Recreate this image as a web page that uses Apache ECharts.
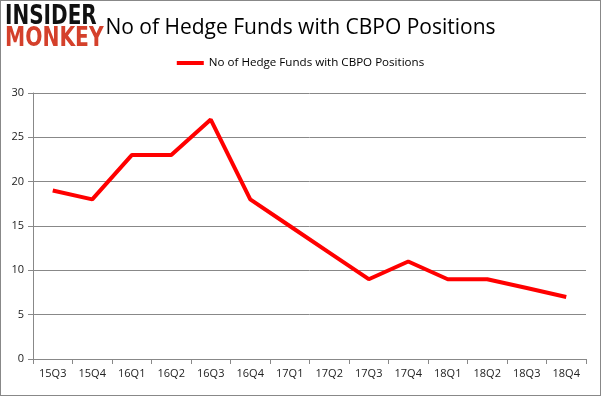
<!DOCTYPE html>
<html><head><meta charset="utf-8">
<script src="https://cdn.jsdelivr.net/npm/echarts@6/dist/echarts.min.js"></script>
<style>html,body{margin:0;padding:0;background:#fff}#c{width:601px;height:396px;box-sizing:border-box;border:1px solid #888}</style>
</head><body><div id="c"></div>
<script>
const categories = ["15Q3","15Q4","16Q1","16Q2","16Q3","16Q4","17Q1","17Q2","17Q3","17Q4","18Q1","18Q2","18Q3","18Q4"];
const hedgeFunds = [19,18,23,23,27,18,15,12,9,11,9,9,8,7];
const yTicks = [0,5,10,15,20,25,30];
const seriesName = "No of Hedge Funds with CBPO Positions";
const chart = echarts.init(document.getElementById('c'), null, {renderer:'canvas'});
chart.setOption({
  animation:false,
  title:{text:seriesName,left:'center',top:12,textStyle:{fontFamily:'Open Sans',fontSize:21,fontWeight:'normal',color:'#000'}},
  legend:{top:51,left:'center',itemWidth:27,itemHeight:4,itemGap:5,icon:'rect',textStyle:{fontFamily:'Open Sans',fontSize:11.6,color:'#000'},data:[seriesName]},
  graphic:[
    {type:'text',x:4,y:3,scaleX:0.77,style:{text:'INSIDER',font:'900 26px "DejaVu Sans"',fill:'#111',verticalAlign:'top'}},
    {type:'text',x:4,y:25,scaleX:0.78,style:{text:'MONKEY',font:'900 26px "DejaVu Sans"',fill:'#d4402b',verticalAlign:'top'}}
  ],
  grid:{left:32,right:14,top:92,bottom:36},
  xAxis:{type:'category',data:categories,boundaryGap:true,
    axisLine:{lineStyle:{color:'#888'}},axisTick:{show:true,alignWithLabel:false,length:5,lineStyle:{color:'#888'}},
    axisLabel:{fontFamily:'Open Sans',fontSize:11,color:'#222',margin:9}},
  yAxis:{type:'value',min:yTicks[0],max:yTicks[yTicks.length-1],interval:5,
    axisLine:{show:true,lineStyle:{color:'#888'}},axisTick:{show:true,length:5,inside:false,lineStyle:{color:'#888'}},
    splitLine:{lineStyle:{color:'#888'}},
    axisLabel:{fontFamily:'Open Sans',fontSize:11,color:'#222',margin:9}},
  series:[{name:seriesName,type:'line',data:hedgeFunds,symbol:'none',lineStyle:{color:'#ff0000',width:4},itemStyle:{color:'#ff0000'}}]
});
</script></body></html>
